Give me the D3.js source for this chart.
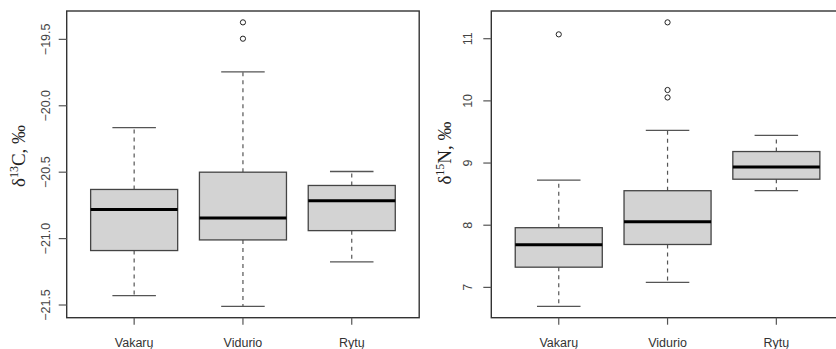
<!DOCTYPE html>
<html>
<head>
<meta charset="utf-8">
<script src="https://cdn.jsdelivr.net/npm/d3@7"></script>
<style>
  body { margin: 0; background: #fff; }
  svg { display: block; }
</style>
</head>
<body>
<div id="chart"></div>
<script>
// groups on x axis
var groups = ["Vakarų", "Vidurio", "Rytų"];

// box stats per group: [lower whisker, Q1, median, Q3, upper whisker]
var c13Stats = [
  [-21.43, -21.09, -20.78, -20.63, -20.165],
  [-21.51, -21.01, -20.845, -20.50, -19.745],
  [-21.175, -20.94, -20.715, -20.60, -20.495]
];
var c13Outliers = [[], [-19.495, -19.372], []];
var c13Ticks = [-21.5, -21.0, -20.5, -20.0, -19.5];

var n15Stats = [
  [6.695, 7.325, 7.685, 7.96, 8.725],
  [7.08, 7.69, 8.055, 8.555, 9.525],
  [8.555, 8.74, 8.935, 9.185, 9.445]
];
var n15Outliers = [[11.07], [10.055, 10.175, 11.263], []];
var n15Ticks = [7, 8, 9, 10, 11];

var W = 836, H = 349;
var svg = d3.select("#chart").append("svg")
  .attr("width", W)
  .attr("height", H);

svg.append("rect").attr("width", W).attr("height", H).attr("fill", "#fff");

function panel(left, stats, outliers, ticks, fmt, labelBase, labelSup, labelRest, tickOff, labelX, labelY) {
  var top = 11, bottom = 317.7, pw = 352.5;

  // R style: data range padded by 4%
  var all = d3.merge(stats).concat(d3.merge(outliers));
  var lo = d3.min(all), hi = d3.max(all), pad = (hi - lo) * 0.04;
  var y = d3.scaleLinear().domain([lo - pad, hi + pad]).range([bottom, top]);
  var x = d3.scaleLinear().domain([0.38, 3.62]).range([left, left + pw]);
  var bw = (x(1.8) - x(1)), cw = bw / 2;

  var g = svg.append("g");

  var b = g.selectAll(".box")
    .data(stats)
    .enter().append("g");

  // whiskers (dashed)
  b.append("line")
    .attr("x1", function(d, i) { return x(i + 1); })
    .attr("x2", function(d, i) { return x(i + 1); })
    .attr("y1", function(d) { return y(d[3]); })
    .attr("y2", function(d) { return y(d[4]); })
    .attr("stroke", "#555").attr("stroke-width", 1.2)
    .attr("stroke-dasharray", "4,4");
  b.append("line")
    .attr("x1", function(d, i) { return x(i + 1); })
    .attr("x2", function(d, i) { return x(i + 1); })
    .attr("y1", function(d) { return y(d[1]); })
    .attr("y2", function(d) { return y(d[0]); })
    .attr("stroke", "#555").attr("stroke-width", 1.2)
    .attr("stroke-dasharray", "4,4");

  // caps
  [0, 4].forEach(function(k) {
    b.append("line")
      .attr("x1", function(d, i) { return x(i + 1) - cw / 2; })
      .attr("x2", function(d, i) { return x(i + 1) + cw / 2; })
      .attr("y1", function(d) { return y(d[k]); })
      .attr("y2", function(d) { return y(d[k]); })
      .attr("stroke", "#555").attr("stroke-width", 1.3);
  });

  // box
  b.append("rect")
    .attr("x", function(d, i) { return x(i + 1) - bw / 2; })
    .attr("y", function(d) { return y(d[3]); })
    .attr("width", bw)
    .attr("height", function(d) { return y(d[1]) - y(d[3]); })
    .attr("fill", "#d3d3d3")
    .attr("stroke", "#444").attr("stroke-width", 1.3);

  // median
  b.append("line")
    .attr("x1", function(d, i) { return x(i + 1) - bw / 2; })
    .attr("x2", function(d, i) { return x(i + 1) + bw / 2; })
    .attr("y1", function(d) { return y(d[2]); })
    .attr("y2", function(d) { return y(d[2]); })
    .attr("stroke", "#000").attr("stroke-width", 3);

  // outliers
  outliers.forEach(function(arr, i) {
    g.selectAll(null)
      .data(arr)
      .enter().append("circle")
      .attr("cx", x(i + 1))
      .attr("cy", function(d) { return y(d); })
      .attr("r", 2.6)
      .attr("fill", "none")
      .attr("stroke", "#222").attr("stroke-width", 1);
  });

  // frame
  g.append("rect")
    .attr("x", left).attr("y", top)
    .attr("width", pw).attr("height", bottom - top)
    .attr("fill", "none")
    .attr("stroke", "#333").attr("stroke-width", 1.4);

  // y axis ticks
  g.selectAll(".yt")
    .data(ticks)
    .enter().append("line")
    .attr("x1", left - 8).attr("x2", left)
    .attr("y1", function(d) { return y(d); })
    .attr("y2", function(d) { return y(d); })
    .attr("stroke", "#555").attr("stroke-width", 1.2);

  g.selectAll(".yl")
    .data(ticks)
    .enter().append("text")
    .attr("transform", function(d) { return "translate(" + (left - tickOff) + "," + y(d) + ") rotate(-90)"; })
    .attr("text-anchor", "middle")
    .attr("font-family", "Liberation Sans, Arial, sans-serif")
    .attr("font-size", 12.5)
    .attr("fill", "#444")
    .text(fmt);

  // x axis ticks + labels
  g.selectAll(".xt")
    .data(groups)
    .enter().append("line")
    .attr("x1", function(d, i) { return x(i + 1); })
    .attr("x2", function(d, i) { return x(i + 1); })
    .attr("y1", bottom).attr("y2", bottom + 7)
    .attr("stroke", "#555").attr("stroke-width", 1.2);

  g.selectAll(".xl")
    .data(groups)
    .enter().append("text")
    .attr("x", function(d, i) { return x(i + 1); })
    .attr("y", 347)
    .attr("text-anchor", "middle")
    .attr("font-family", "Liberation Sans, Arial, sans-serif")
    .attr("font-size", 12.5)
    .attr("fill", "#333")
    .text(function(d) { return d; });

  // axis title
  var t = g.append("text")
    .attr("transform", "translate(" + labelX + "," + labelY + ") rotate(-90)")
    .attr("text-anchor", "middle")
    .attr("font-family", "Liberation Serif, Times New Roman, serif")
    .attr("font-size", 19)
    .attr("fill", "#222");
  t.append("tspan").text(labelBase);
  t.append("tspan").attr("font-size", 12).attr("dy", -7).text(labelSup);
  t.append("tspan").attr("dy", 7).text(labelRest);
}

panel(66.7, c13Stats, c13Outliers, c13Ticks, d3.format(".1f"), "δ", "13", "C, ‰", 17, 25, 156);
panel(491.3, n15Stats, n15Outliers, n15Ticks, d3.format("d"), "δ", "15", "N, ‰", 19, 451, 153);
</script>
</body>
</html>
